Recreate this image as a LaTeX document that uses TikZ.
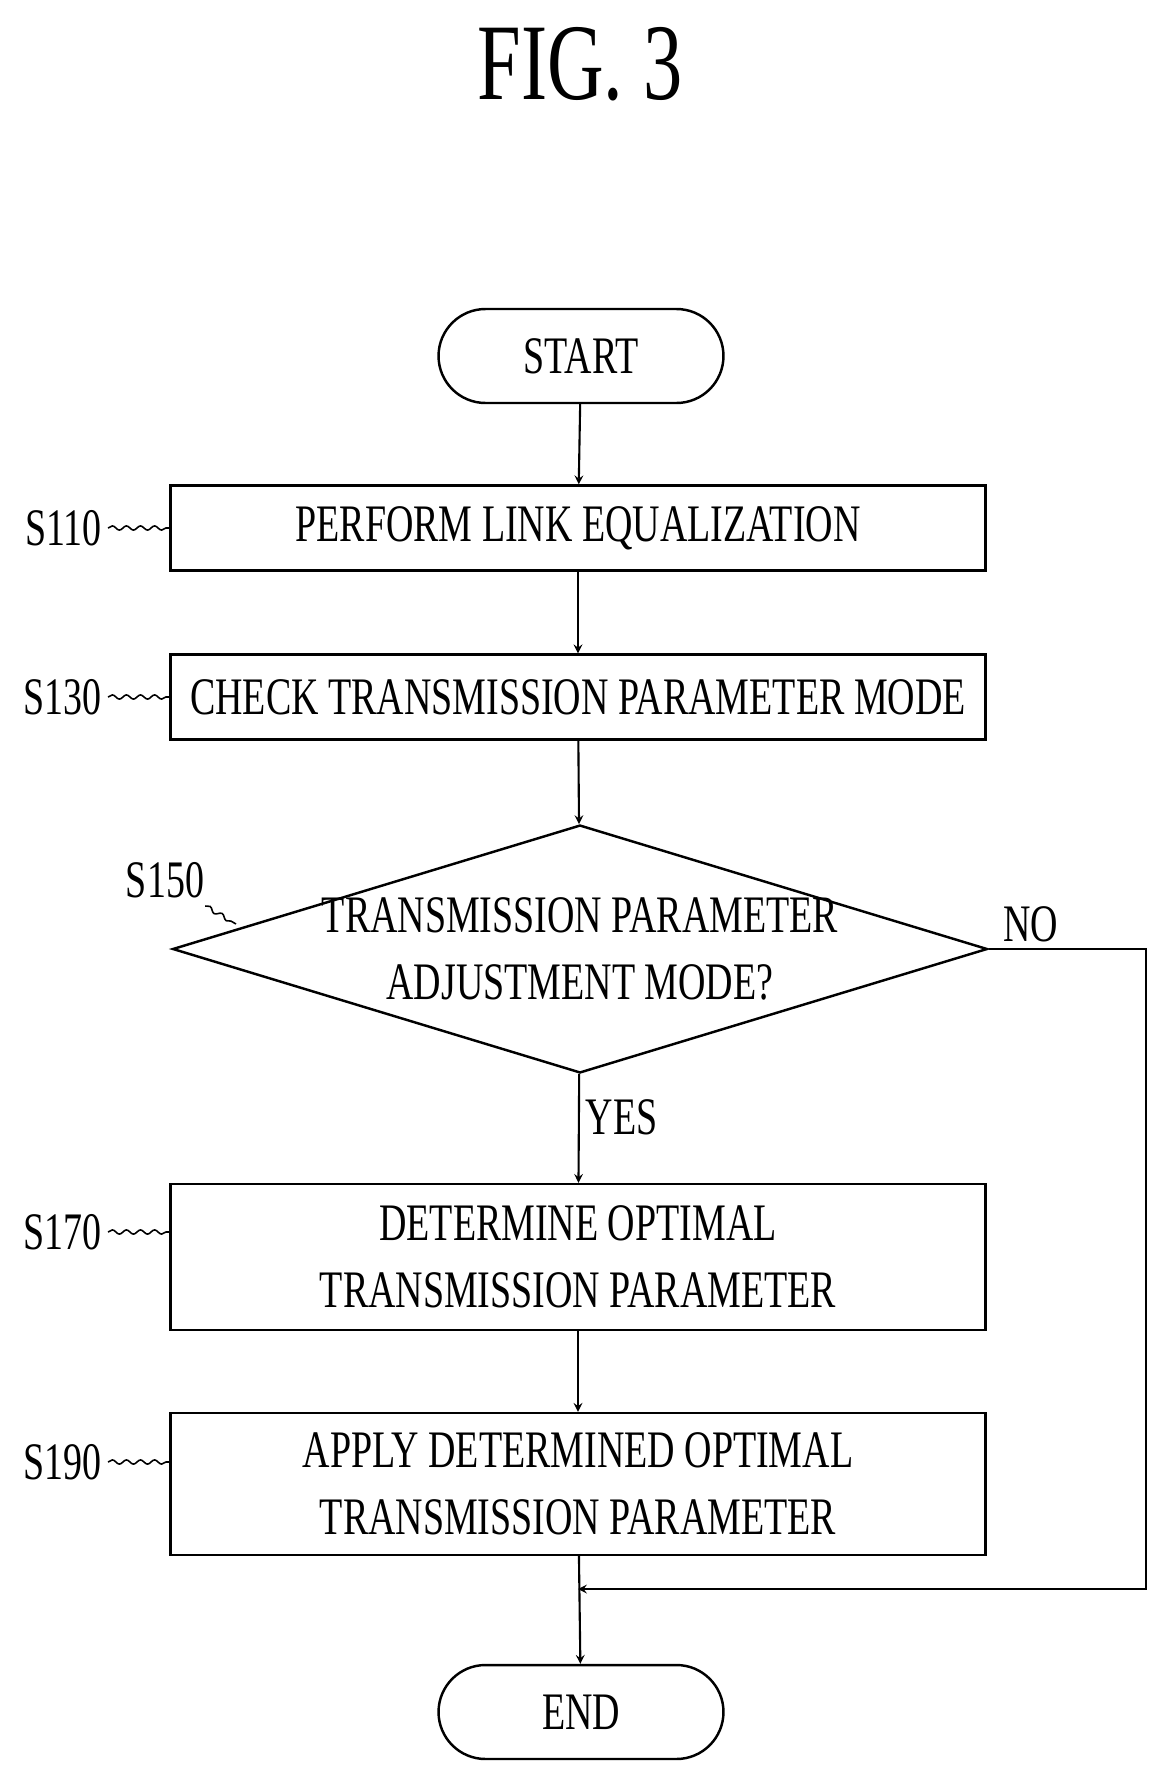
\documentclass[tikz,border=0pt]{standalone}
\usepackage{fontspec}
\setmainfont{Liberation Serif}[FakeStretch=0.72]
\usetikzlibrary{shapes.geometric,decorations.pathmorphing}

\begin{document}
\begin{tikzpicture}[x = 0.02cm, y = -0.02cm, >=stealth,
    every node/.style = {font=\fontsize{30}{38}\selectfont},
    box/.style = {draw, line width=1.4pt, minimum width=16.3cm, align=center, inner sep=0pt},
    term/.style = {draw, line width=1.4pt, rounded corners=0.94cm, minimum width=5.7cm, minimum height=1.88cm},
    steplabel/.style = {font=\fontsize{30}{38}\selectfont, anchor=east},
    wave/.style = {decorate, decoration={snake, amplitude=1.2pt, segment length=8pt}, line width=0.9pt},
    flow/.style = {->, line width=1.2pt}]
    \useasboundingbox (0,0) rectangle (1169,1772);
    \node[font=\fontsize{62}{70}\selectfont] (title) at (580,64) {FIG. 3};
    \node[term] (start) at (581,356) {START};
    \node[box, minimum height=1.7cm] (s110) at (578,528) {PERFORM LINK EQUALIZATION};
    \node[box, minimum height=1.7cm] (s130) at (578,697) {CHECK TRANSMISSION PARAMETER MODE};
    \node[draw, line width=1.4pt, diamond, aspect=3.3, minimum width=16.3cm, minimum height=4.96cm, inner sep=0pt] (s150) at (580,949) {};
    \node[align=center] (q150) at (s150.center) {TRANSMISSION PARAMETER\\ADJUSTMENT MODE?};
    \node[box, minimum height=2.92cm] (s170) at (578,1257) {DETERMINE OPTIMAL\\TRANSMISSION PARAMETER};
    \node[box, minimum height=2.84cm] (s190) at (578,1484) {APPLY DETERMINED OPTIMAL\\TRANSMISSION PARAMETER};
    \node[term] (end) at (581,1712) {END};
    % step labels
    \node[steplabel] (l110) at (108,528) {S110};
    \node[steplabel] (l130) at (108,697) {S130};
    \node[steplabel] (l170) at (108,1232) {S170};
    \node[steplabel] (l190) at (108,1462) {S190};
    \node (l150) at (165,880) {S150};
    \draw[wave] (l110.east) -- (s110.west |- l110.east);
    \draw[wave] (l130.east) -- (s130.west |- l130.east);
    \draw[wave] (l170.east) -- (s170.west |- l170.east);
    \draw[wave] (l190.east) -- (s190.west |- l190.east);
    \coordinate (k150) at (236,924);
    \draw[wave] (l150.south east) ++(-5,2) -- (k150);
    % connectors
    \draw[flow] (start) -- (s110);
    \draw[flow] (s110) -- (s130);
    \draw[flow] (s130) -- (s150);
    \draw[flow] (s150) -- node[right, pos=0.4] (yes) {YES} (s170);
    \draw[flow] (s170) -- (s190);
    \coordinate (m) at (s190.south |- 0,1589);
    \coordinate (r) at (1146,1589);
    \draw[flow] (s190) -- (end);
    \draw[flow] (s150.east) -- node[above right, pos=0.05] (no) {NO} (s150.east -| r) -- (r) -- (m);
\end{tikzpicture}
\end{document}
